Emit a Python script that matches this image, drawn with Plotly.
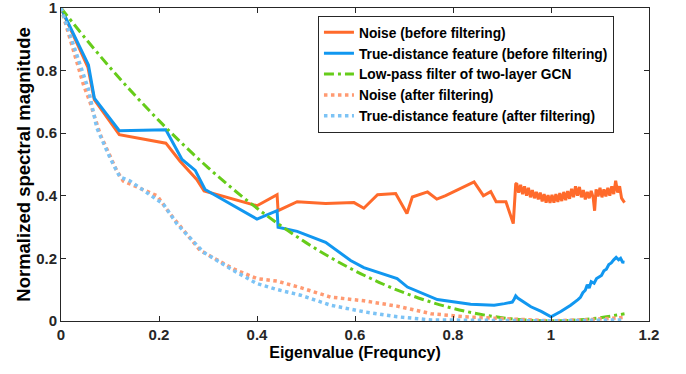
import plotly.graph_objects as go

# ---- data ----
noise_before_x = [0, 0.055, 0.068, 0.119, 0.214, 0.243, 0.277, 0.292, 0.40, 0.441, 0.443, 0.482, 0.54, 0.598,
                  0.618, 0.646, 0.683, 0.706, 0.717, 0.748, 0.767, 0.785, 0.843, 0.862, 0.877, 0.888, 0.908,
                  0.923, 0.928,
                  0.930, 0.934, 0.938, 0.942, 0.946, 0.950, 0.954, 0.958, 0.962, 0.966, 0.970, 0.974, 0.978,
                  0.982, 0.986, 0.990, 0.994, 0.998, 1.002, 1.006, 1.010, 1.014, 1.018, 1.022, 1.026, 1.030,
                  1.034, 1.038, 1.042, 1.046, 1.050, 1.054, 1.058, 1.062, 1.066, 1.070, 1.074, 1.078, 1.082,
                  1.086, 1.089, 1.092, 1.096, 1.100, 1.104, 1.108, 1.112, 1.116, 1.120, 1.124, 1.128, 1.132,
                  1.136, 1.140, 1.144, 1.148, 1.150]
noise_before_y = [1.0, 0.81, 0.707, 0.595, 0.568, 0.51, 0.452, 0.415, 0.368, 0.403, 0.352, 0.381, 0.375, 0.378,
                  0.36, 0.403, 0.407, 0.343, 0.396, 0.412, 0.389, 0.40, 0.444, 0.40, 0.413, 0.381, 0.381,
                  0.311, 0.437,
                  0.440, 0.410, 0.435, 0.405, 0.430, 0.400, 0.425, 0.395, 0.418, 0.392, 0.412, 0.388, 0.410,
                  0.382, 0.405, 0.378, 0.402, 0.377, 0.403, 0.378, 0.405, 0.380, 0.408, 0.383, 0.412, 0.386,
                  0.415, 0.390, 0.422, 0.395, 0.430, 0.400, 0.428, 0.395, 0.418, 0.388, 0.412, 0.392, 0.415,
                  0.395, 0.352, 0.420, 0.398, 0.425, 0.395, 0.420, 0.398, 0.425, 0.400, 0.430, 0.405, 0.448,
                  0.410, 0.430, 0.392, 0.383, 0.378]

true_before_x = [0, 0.056, 0.068, 0.119, 0.214, 0.247, 0.274, 0.294, 0.40, 0.441, 0.443, 0.482, 0.54, 0.591,
                 0.618, 0.686, 0.707, 0.768, 0.836, 0.884, 0.905, 0.921, 0.925, 0.928, 0.932, 0.94, 0.959,
                 0.98, 1.0, 1.02, 1.04, 1.055, 1.06, 1.065, 1.07, 1.074, 1.078, 1.082, 1.088, 1.093, 1.098,
                 1.103, 1.108, 1.113, 1.118, 1.123, 1.128, 1.133, 1.138, 1.142, 1.146, 1.15]
true_before_y = [1.0, 0.818, 0.712, 0.608, 0.611, 0.516, 0.481, 0.42, 0.325, 0.352, 0.299, 0.286, 0.251, 0.193,
                 0.17, 0.135, 0.108, 0.068, 0.053, 0.05, 0.055, 0.06, 0.07, 0.08, 0.073, 0.065, 0.045,
                 0.03, 0.013, 0.03, 0.05, 0.068, 0.075, 0.09, 0.098, 0.115, 0.105, 0.125, 0.12, 0.135, 0.14,
                 0.145, 0.16, 0.165, 0.18, 0.185, 0.195, 0.203, 0.195, 0.2, 0.188, 0.187]

lowpass_x = [0, 0.05, 0.1, 0.15, 0.2, 0.25, 0.3, 0.35, 0.4, 0.45, 0.5, 0.55, 0.6, 0.65, 0.7, 0.75, 0.8,
             0.85, 0.9, 0.95, 1.0, 1.05, 1.1, 1.15]
lowpass_y = [1.0, 0.9025, 0.81, 0.7225, 0.64, 0.5625, 0.49, 0.4225, 0.36, 0.3025, 0.25, 0.2025, 0.16,
             0.1225, 0.09, 0.0625, 0.04, 0.0225, 0.01, 0.0025, 0.0, 0.0025, 0.01, 0.0225]

noise_after_x = [0, 0.046, 0.059, 0.08, 0.114, 0.127, 0.196, 0.223, 0.284, 0.352, 0.40, 0.441, 0.489, 0.55,
                 0.618, 0.686, 0.755, 0.822, 0.89, 0.95, 1.0, 1.08, 1.15]
noise_after_y = [1.0, 0.754, 0.70, 0.596, 0.479, 0.447, 0.40, 0.341, 0.225, 0.166, 0.135, 0.127, 0.106, 0.076,
                 0.064, 0.047, 0.023, 0.013, 0.008, 0.003, 0.0, 0.004, 0.011]

true_after_x = [0, 0.056, 0.073, 0.10, 0.12, 0.141, 0.209, 0.237, 0.291, 0.352, 0.40, 0.441, 0.489, 0.55,
                0.618, 0.686, 0.755, 0.85, 1.0, 1.15]
true_after_y = [1.0, 0.74, 0.617, 0.521, 0.46, 0.447, 0.373, 0.309, 0.219, 0.161, 0.119, 0.10, 0.082, 0.05,
                0.029, 0.013, 0.003, 0.001, 0.0, 0.003]

x_ticks = [0, 0.2, 0.4, 0.6, 0.8, 1.0, 1.2]
x_tick_labels = ["0", "0.2", "0.4", "0.6", "0.8", "1", "1.2"]
y_ticks = [0, 0.2, 0.4, 0.6, 0.8, 1.0]
y_tick_labels = ["0", "0.2", "0.4", "0.6", "0.8", "1"]

FONT = "Liberation Sans"
AX = "#262626"

fig = go.Figure()
fig.add_trace(go.Scatter(x=noise_before_x, y=noise_before_y, mode="lines",
                         name="Noise (before filtering)",
                         line=dict(color="#FF6A2B", width=3)))
fig.add_trace(go.Scatter(x=true_before_x, y=true_before_y, mode="lines",
                         name="True-distance feature (before filtering)",
                         line=dict(color="#1197F0", width=3)))
fig.add_trace(go.Scatter(x=lowpass_x, y=lowpass_y, mode="lines", line_shape="spline",
                         name="Low-pass filter of two-layer GCN",
                         line=dict(color="#66CC1A", width=3, dash="10px,4px,3px,4px")))
fig.add_trace(go.Scatter(x=noise_after_x, y=noise_after_y, mode="lines",
                         name="Noise (after filtering)",
                         line=dict(color="#FF9A72", width=3.5, dash="dot")))
fig.add_trace(go.Scatter(x=true_after_x, y=true_after_y, mode="lines",
                         name="True-distance feature (after filtering)",
                         line=dict(color="#7CC3F5", width=3.5, dash="dot")))

axis_common = dict(showline=True, linecolor=AX, linewidth=1, mirror="ticks",
                   ticks="inside", ticklen=5, tickcolor=AX, showgrid=False, zeroline=False,
                   ticklabeloverflow="allow", automargin=False,
                   tickfont=dict(family=FONT, size=15, color=AX, weight="bold"))

fig.update_xaxes(range=[0, 1.2], tickvals=x_ticks, ticktext=x_tick_labels,
                 title=dict(text="Eigenvalue (Frequncy)", standoff=4,
                            font=dict(family=FONT, size=16, color="#000", weight="bold")),
                 **axis_common)
fig.update_yaxes(range=[-0.0005, 1], tickvals=y_ticks, ticktext=y_tick_labels,
                 title=dict(text="Normalized spectral magnitude", standoff=0,
                            font=dict(family=FONT, size=18.5, color="#000", weight="bold")),
                 **axis_common)

fig.update_layout(
    width=686, height=374,
    margin=dict(l=61, r=37, t=8, b=53),
    plot_bgcolor="white", paper_bgcolor="white",
    legend=dict(x=0.437, y=0.975, xanchor="left", yanchor="top",
                bgcolor="white", bordercolor=AX, borderwidth=1,
                font=dict(family=FONT, size=13.75, color="#000", weight="bold"),
                tracegroupgap=0, itemwidth=30),
)

fig.write_html("out.html")
